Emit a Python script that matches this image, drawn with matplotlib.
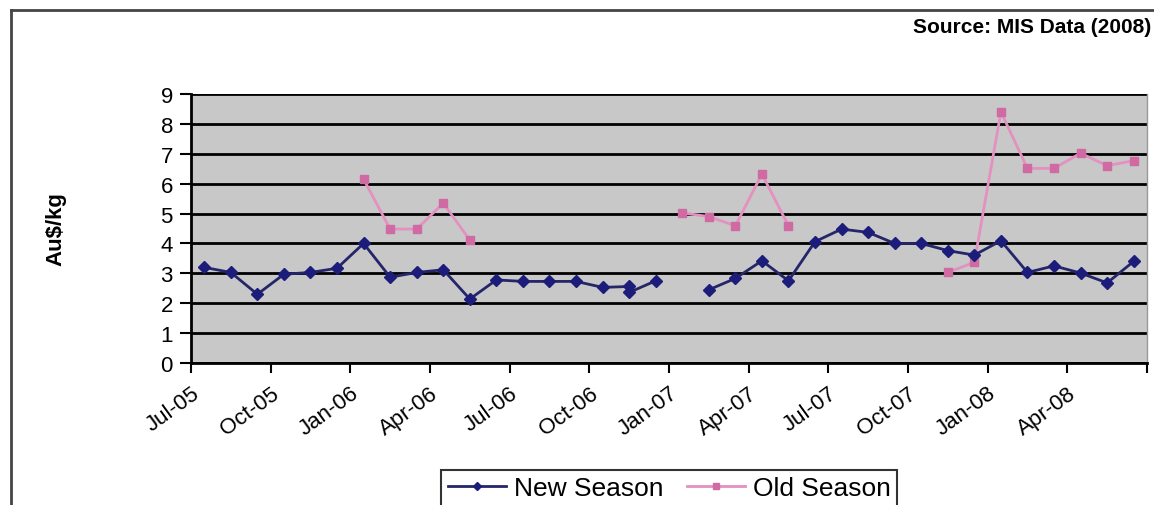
import numpy as np
import matplotlib.pyplot as plt
from matplotlib.lines import Line2D

plt.rcParams['font.family'] = ['Liberation Sans', 'DejaVu Sans']

# monthly prices, Au$/kg (NaN = no sale that month)
new_months = ['2005-07', '2005-08', '2005-09', '2005-10', '2005-11', '2005-12',
              '2006-01', '2006-02', '2006-03', '2006-04', '2006-05', '2006-06',
              '2006-07', '2006-08', '2006-09', '2006-10', '2006-11', '2006-11',
              '2006-12', '2007-01', '2007-02', '2007-03', '2007-04', '2007-05',
              '2007-06', '2007-07', '2007-08', '2007-09', '2007-10', '2007-11',
              '2007-12', '2008-01', '2008-02', '2008-03', '2008-04', '2008-05',
              '2008-06']
new_season = [3.2, 3.03, 2.3, 2.97, 3.03, 3.17,
              4.0, 2.87, 3.03, 3.12, 2.14, 2.78,
              2.73, 2.73, 2.73, 2.53, 2.56, 2.36,
              2.75, np.nan, 2.45, 2.83, 3.42, 2.75,
              4.06, 4.48, 4.37, 4.0, 4.0, 3.76,
              3.61, 4.09, 3.03, 3.25, 3.01, 2.68,
              3.4]

old_months = ['2006-01', '2006-02', '2006-03', '2006-04', '2006-05', '2006-06',
              '2007-01', '2007-02', '2007-03', '2007-04', '2007-05', '2007-06',
              '2007-11', '2007-12', '2008-01', '2008-02', '2008-03', '2008-04',
              '2008-05', '2008-06']
old_season = [6.15, 4.48, 4.48, 5.35, 4.11, np.nan,
              5.02, 4.9, 4.59, 6.32, 4.59, np.nan,
              3.03, 3.37, 8.4, 6.51, 6.51, 7.02,
              6.6, 6.77]

tick_labels = ['Jul-05', 'Oct-05', 'Jan-06', 'Apr-06', 'Jul-06', 'Oct-06',
               'Jan-07', 'Apr-07', 'Jul-07', 'Oct-07', 'Jan-08', 'Apr-08']


def month_pos(m):
    # months since Jul-05, plotted at the middle of each month slot
    y, mo = m.split('-')
    return (int(y) - 2005) * 12 + int(mo) - 7 + 0.5


x_new = np.array([month_pos(m) for m in new_months])
x_old = np.array([month_pos(m) for m in old_months])

fig = plt.figure(figsize=(11.54, 5.06), dpi=100)
ax = fig.add_axes([0.1655, 0.2806, 0.8284, 0.5317])
ax.set_facecolor('#c8c8c8')

ax.plot(x_new, new_season, color='#25256a', lw=2, marker='D', ms=6,
        mfc='#1c1c7a', mec='#1c1c7a', label='New Season', zorder=4)
ax.plot(x_old, old_season, color='#e391c0', lw=2, marker='s', ms=6,
        mfc='#cf6aa3', mec='#cf6aa3', label='Old Season', zorder=3)

ax.set_ylim(0, 9)
ax.set_yticks(range(10))
ax.set_xlim(0, 36)
ax.set_xticks(np.arange(0, 37, 3))
ax.set_xticklabels(tick_labels + [''], rotation=36, ha='right',
                   rotation_mode='anchor', fontsize=16)
ax.tick_params(axis='y', labelsize=16, length=8, width=1.5, pad=5)
ax.tick_params(axis='x', length=7, width=1.5, pad=7)

ax.grid(axis='y', color='black', lw=2)
ax.set_axisbelow(True)
ax.spines['top'].set_visible(False)
ax.spines['right'].set_color('#999999')
ax.spines['right'].set_linewidth(1)
ax.spines['left'].set_linewidth(2)
ax.spines['bottom'].set_linewidth(2)

ax.set_ylabel('Au$/kg', fontsize=16, fontweight='bold', labelpad=68)

fig.text(0.998, 0.945, 'Source: MIS Data (2008)', ha='right', va='center',
         fontsize=15, fontweight='bold')

leg = fig.legend(loc='lower center', bbox_to_anchor=(0.58, -0.03), ncol=2,
                 fontsize=19, frameon=True, fancybox=False, handlelength=2.2,
                 handletextpad=0.3, columnspacing=0.9, borderpad=0.25,
                 markerscale=0.7)
leg.get_frame().set_edgecolor('black')
leg.get_frame().set_linewidth(1.5)

# outer chart border
fig.add_artist(Line2D([11 / 1154, 11 / 1154], [0, 1 - 11 / 506],
                      transform=fig.transFigure, color='#444444', lw=2))
fig.add_artist(Line2D([11 / 1154, 1], [1 - 11 / 506, 1 - 11 / 506],
                      transform=fig.transFigure, color='#444444', lw=2))

fig.savefig('out.png', dpi=100)
